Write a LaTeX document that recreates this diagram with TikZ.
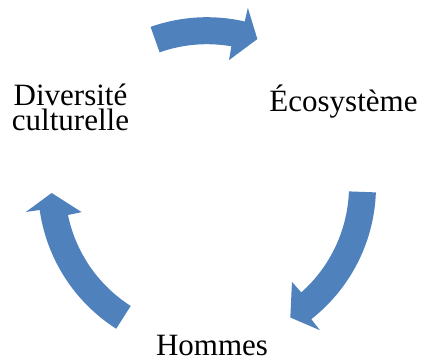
\documentclass[tikz,border=0pt]{standalone}
\usepackage{fontspec}
\setmainfont{Liberation Serif}
\definecolor{cycleblue}{RGB}{79,129,189}
\tikzset{
  cyclelabel/.style={font=\rmfamily\fontsize{31}{25.3}\selectfont, inner sep=0pt, anchor=base, align=center},
  cyclearrow/.style={fill=cycleblue}
}
\begin{document}
\begin{tikzpicture}[x=1pt,y=1pt]
\useasboundingbox (-207,-171.8) rectangle (215,186.2);
\node[cyclelabel] (div) at (-136.5,55.2) {Diversité\\culturelle};
\node[cyclelabel] (eco) at (136.5,74.2) {Écosystème};
\node[cyclelabel] (hom) at (5,-168.8) {Hommes};
\coordinate (t1) at (109.5:142);
\coordinate (t2) at (-2.1:142);
\coordinate (t3) at (237.5:142);
\fill[cyclearrow] (t1) arc[start angle=109.5, end angle=80.1, radius=142] -- (80.1:128) -- (71.1:155.5) -- (77.1:183) -- (77.1:169) arc[start angle=77.1, end angle=109.5, radius=169] -- cycle;
\fill[cyclearrow] (t2) arc[start angle=-2.1, end angle=-48.4, radius=142] -- (-48.4:128) -- (-57.6:155.5) -- (-51.9:183) -- (-51.9:169) arc[start angle=-51.9, end angle=-2.1, radius=169] -- cycle;
\fill[cyclearrow] (t3) arc[start angle=237.5, end angle=191.7, radius=142] -- (191.7:128) -- (182.5:155.5) -- (188.1:183) -- (188.1:169) arc[start angle=188.1, end angle=237.5, radius=169] -- cycle;
\end{tikzpicture}
\end{document}
